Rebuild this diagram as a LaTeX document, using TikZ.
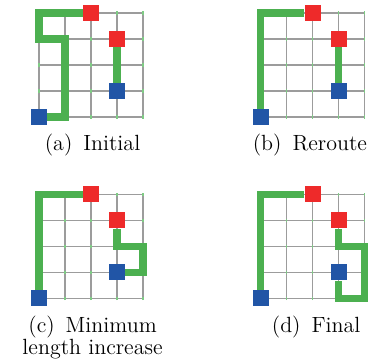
\documentclass[tikz,border=0pt]{standalone}
\usetikzlibrary{positioning}
\definecolor{wirered}{HTML}{EE2A2A}
\definecolor{wireblue}{HTML}{2155A6}
\definecolor{wiregreen}{HTML}{4CB050}
\definecolor{gridgray}{HTML}{9C9C9C}
\definecolor{ticklight}{HTML}{7FCC85}

\begin{document}
\begin{tikzpicture}[x=13pt, y=13pt,
    gridline/.style={gridgray, line width=0.6pt, step=1},
    gridtick/.style={ticklight, line width=0.7pt},
    pinred/.style={rectangle, fill=wirered, minimum size=8pt, inner sep=0pt},
    pinblue/.style={rectangle, fill=wireblue, minimum size=8pt, inner sep=0pt},
    route/.style={wiregreen, line width=3.6pt},
    captext/.style={font=\fontsize{11}{11}\selectfont, align=center, anchor=base, inner sep=0pt},
  ]
  \useasboundingbox (0,0) rectangle (14.27,14);

  % (a) initial
  \begin{scope}[shift={(1.5,9.5)}]
    \draw[gridline] (0,0) grid (4,4);
    \foreach \i in {0,...,4} \foreach \j in {0,...,4}
      \draw[gridtick] (\i,\j-0.06) -- (\i,\j+0.06);
    \node[pinred] (a-red1) at (2,4) {};
    \node[pinred] (a-red2) at (3,3) {};
    \node[pinblue] (a-blue1) at (0,0) {};
    \node[pinblue] (a-blue2) at (3,1) {};
    \draw[route] (a-red1) -- (0,4) -- (0,3) -- (1,3) -- (1,0) -- (a-blue1);
    \draw[route] (a-red2) -- (a-blue2);
  \end{scope}

  % (b) reroute
  \begin{scope}[shift={(10.03,9.5)}]
    \draw[gridline] (0,0) grid (4,4);
    \foreach \i in {0,...,4} \foreach \j in {0,...,4}
      \draw[gridtick] (\i,\j-0.06) -- (\i,\j+0.06);
    \node[pinred] (b-red1) at (2,4) {};
    \node[pinred] (b-red2) at (3,3) {};
    \node[pinblue] (b-blue1) at (0,0) {};
    \node[pinblue] (b-blue2) at (3,1) {};
    \draw[route] (b-red1) -| (b-blue1);
    \draw[route] (b-red2) -- (b-blue2);
  \end{scope}

  % (c) minimum length increase
  \begin{scope}[shift={(1.5,2.52)}]
    \draw[gridline] (0,0) grid (4,4);
    \foreach \i in {0,...,4} \foreach \j in {0,...,4}
      \draw[gridtick] (\i,\j-0.06) -- (\i,\j+0.06);
    \node[pinred] (c-red1) at (2,4) {};
    \node[pinred] (c-red2) at (3,3) {};
    \node[pinblue] (c-blue1) at (0,0) {};
    \node[pinblue] (c-blue2) at (3,1) {};
    \draw[route] (c-red1) -| (c-blue1);
    \draw[route] (c-red2) -- (3,2) -- (4,2) -- (4,1) -- (c-blue2);
  \end{scope}

  % (d) final
  \begin{scope}[shift={(10.03,2.52)}]
    \draw[gridline] (0,0) grid (4,4);
    \foreach \i in {0,...,4} \foreach \j in {0,...,4}
      \draw[gridtick] (\i,\j-0.06) -- (\i,\j+0.06);
    \node[pinred] (d-red1) at (2,4) {};
    \node[pinred] (d-red2) at (3,3) {};
    \node[pinblue] (d-blue1) at (0,0) {};
    \node[pinblue] (d-blue2) at (3,1) {};
    \draw[route] (d-red1) -| (d-blue1);
    \draw[route] (d-red2) -- (3,2) -- (4,2) -- (4,0) -- (3,0) -- (d-blue2);
  \end{scope}

  \node[captext] (a-cap) at (3.56,8.21) {(a)\enspace Initial};
  \node[captext] (b-cap) at (11.92,8.21) {(b)\enspace Reroute};
  \node[captext] (c-cap) at (3.56,0.37) {(c)\enspace Minimum\\length increase};
  \node[captext] (d-cap) at (12.16,1.21) {(d)\enspace Final};
\end{tikzpicture}
\end{document}
